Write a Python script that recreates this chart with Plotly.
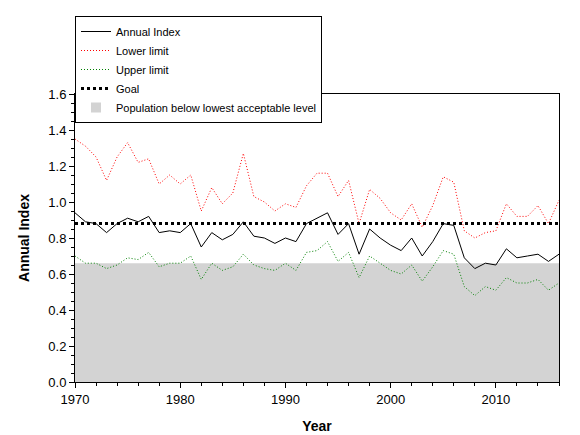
import plotly.graph_objects as go

years = list(range(1970, 2017))
annual = [0.94, 0.89, 0.88, 0.83, 0.88, 0.91, 0.89, 0.92, 0.83, 0.84, 0.83, 0.88, 0.75, 0.83, 0.79, 0.82,
          0.89, 0.81, 0.80, 0.77, 0.80, 0.78, 0.88, 0.91, 0.94, 0.82, 0.88, 0.71, 0.85, 0.80, 0.76, 0.73,
          0.80, 0.70, 0.78, 0.88, 0.87, 0.69, 0.63, 0.66, 0.65, 0.74, 0.69, 0.70, 0.71, 0.67, 0.71]
lower = [1.35, 1.31, 1.25, 1.12, 1.25, 1.33, 1.22, 1.24, 1.10, 1.15, 1.10, 1.15, 0.95, 1.08, 0.99, 1.05,
         1.27, 1.03, 1.00, 0.95, 0.99, 0.97, 1.09, 1.16, 1.16, 1.03, 1.12, 0.88, 1.07, 1.02, 0.94, 0.90,
         0.99, 0.86, 0.98, 1.14, 1.11, 0.84, 0.80, 0.83, 0.84, 0.99, 0.92, 0.92, 0.98, 0.88, 1.01]
upper = [0.70, 0.66, 0.66, 0.63, 0.65, 0.69, 0.68, 0.72, 0.64, 0.66, 0.66, 0.70, 0.57, 0.66, 0.62, 0.64,
         0.71, 0.65, 0.63, 0.62, 0.66, 0.62, 0.72, 0.73, 0.78, 0.67, 0.72, 0.58, 0.70, 0.66, 0.62, 0.60,
         0.65, 0.56, 0.64, 0.73, 0.71, 0.53, 0.48, 0.53, 0.51, 0.58, 0.55, 0.55, 0.57, 0.51, 0.55]
goal = 0.88
lowest_level = 0.66

fig = go.Figure()
# grey area: population below lowest acceptable level
fig.add_trace(go.Scatter(x=[years[0], years[-1]], y=[lowest_level, lowest_level], mode='lines',
                         line=dict(width=0), fill='tozeroy', fillcolor='rgb(211,211,211)',
                         showlegend=False, hoverinfo='skip'))
fig.add_trace(go.Scatter(x=years, y=annual, mode='lines', line=dict(color='black', width=1),
                         name='Annual Index'))
fig.add_trace(go.Scatter(x=years, y=lower, mode='lines', line=dict(color='red', width=1, dash='1px,2px'),
                         name='Lower limit'))
fig.add_trace(go.Scatter(x=years, y=upper, mode='lines', line=dict(color='green', width=1, dash='1px,2px'),
                         name='Upper limit'))
fig.add_trace(go.Scatter(x=[years[0], years[-1]], y=[goal, goal], mode='lines',
                         line=dict(color='black', width=3, dash='3px,3px'), name='Goal'))
# legend entry for grey area
fig.add_trace(go.Scatter(x=[None], y=[None], mode='markers',
                         marker=dict(symbol='square', size=10, color='rgb(211,211,211)'),
                         name='Population below lowest acceptable level'))

axis_common = dict(showline=True, linecolor='black', mirror=True, ticks='outside', tickcolor='black',
                   showgrid=False, zeroline=False, tickfont=dict(size=13, color='black'),
                   minor=dict(ticks='outside', ticklen=3, tickcolor='black'))
fig.update_xaxes(range=[1970, 2016], dtick=10, title=dict(text='<b>Year</b>', font=dict(size=14)),
                 **axis_common)
fig.update_yaxes(range=[0, 1.6], dtick=0.2, tickformat='.1f',
                 title=dict(text='<b>Annual Index</b>', font=dict(size=14)), **axis_common)

fig.update_layout(width=580, height=435, margin=dict(l=67, r=29, t=86, b=61, autoexpand=False),
                  paper_bgcolor='white', plot_bgcolor='white',
                  font=dict(family='Arial, Liberation Sans', size=12, color='black'),
                  legend=dict(x=0.0, y=(374 - 8) / 288, xanchor='left', yanchor='top',
                              bordercolor='black', borderwidth=1, font=dict(size=11),
                              tracegroupgap=0, itemwidth=30))
fig.write_html("out.html")
